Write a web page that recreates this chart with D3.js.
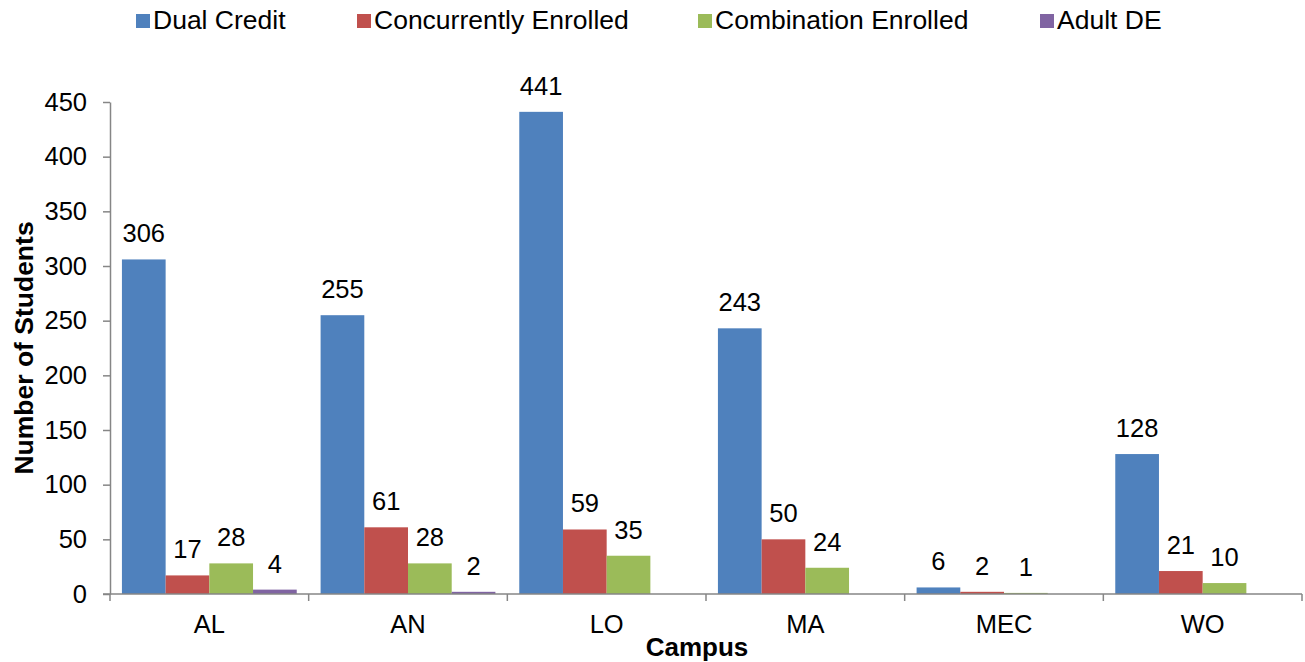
<!DOCTYPE html>
<html>
<head>
<meta charset="utf-8">
<script src="https://cdn.jsdelivr.net/npm/d3@7"></script>
<style>
  body { margin: 0; background: #fff; }
  svg text { font-family: "Liberation Sans", Arial, sans-serif; fill: #000; }
</style>
</head>
<body>
<div id="chart"></div>
<script>
// campuses and series values (null = no bar / label)
const campuses = ['AL', 'AN', 'LO', 'MA', 'MEC', 'WO'];
const seriesNames = ['Dual Credit', 'Concurrently Enrolled', 'Combination Enrolled', 'Adult DE'];
const dualCredit = [306, 255, 441, 243, 6, 128];
const concurrent = [17, 61, 59, 50, 2, 21];
const combination = [28, 28, 35, 24, 1, 10];
const adultDE = [4, 2, null, null, null, null];
const yTicks = [0, 50, 100, 150, 200, 250, 300, 350, 400, 450];
const colors = ['#4F81BD', '#C0504D', '#9BBB59', '#8064A2'];

const W = 1305, H = 662;
const plot = { left: 110, right: 1302, top: 102, bottom: 594 };

const svg = d3.select('#chart').append('svg')
  .attr('width', W).attr('height', H);

const x = d3.scaleBand().domain(campuses).range([plot.left, plot.right]).padding(0);
const xs = d3.scaleBand().domain(d3.range(seriesNames.length))
  .range([0, x.bandwidth()]).paddingInner(0).paddingOuter(0.273);
const y = d3.scaleLinear().domain([0, 450]).range([plot.bottom, plot.top]);

const allSeries = [dualCredit, concurrent, combination, adultDE];
const data = [];
campuses.forEach((c, i) => {
  allSeries.forEach((s, j) => {
    if (s[i] !== null) data.push({ campus: c, series: j, value: s[i] });
  });
});

// bars
svg.append('g').selectAll('rect')
  .data(data)
  .enter()
  .append('rect')
  .attr('x', (d) => x(d.campus) + xs(d.series))
  .attr('y', (d) => y(d.value))
  .attr('width', xs.bandwidth())
  .attr('height', (d) => y(0) - y(d.value))
  .attr('fill', (d) => colors[d.series]);

// value labels
svg.append('g').selectAll('text')
  .data(data)
  .enter()
  .append('text')
  .attr('x', (d) => x(d.campus) + xs(d.series) + xs.bandwidth() / 2)
  .attr('y', (d) => y(d.value) - 17)
  .attr('text-anchor', 'middle')
  .style('font-size', '25.5px')
  .text((d) => d.value);

// y axis
const yAxis = svg.append('g')
  .attr('transform', `translate(${plot.left},0)`)
  .call(d3.axisLeft(y).tickValues(yTicks).tickSize(7).tickPadding(16).tickSizeOuter(0));
yAxis.selectAll('.domain, line').attr('stroke', '#868686').attr('stroke-width', 1.5);
yAxis.selectAll('text').style('font-size', '25.5px').attr('fill', '#000');

// x axis line with boundary ticks
const xg = svg.append('g');
xg.append('line')
  .attr('x1', plot.left - 7).attr('x2', plot.right)
  .attr('y1', y(0)).attr('y2', y(0))
  .attr('stroke', '#868686').attr('stroke-width', 1.5);
const bounds = campuses.map((c) => x(c)).concat([plot.right]);
xg.selectAll('.bt')
  .data(bounds)
  .enter()
  .append('line')
  .attr('x1', (d) => d).attr('x2', (d) => d)
  .attr('y1', y(0)).attr('y2', y(0) + 7)
  .attr('stroke', '#868686').attr('stroke-width', 1.5);
xg.selectAll('.cl')
  .data(campuses)
  .enter()
  .append('text')
  .attr('x', (d) => x(d) + x.bandwidth() / 2)
  .attr('y', 633)
  .attr('text-anchor', 'middle')
  .style('font-size', '25.5px')
  .text((d) => d);

// axis titles
svg.append('text')
  .attr('x', 697).attr('y', 656)
  .attr('text-anchor', 'middle')
  .style('font-size', '26px').style('font-weight', 'bold')
  .text('Campus');
svg.append('text')
  .attr('transform', `translate(33,${(plot.top + plot.bottom) / 2}) rotate(-90)`)
  .attr('text-anchor', 'middle')
  .style('font-size', '26.5px').style('font-weight', 'bold')
  .text('Number of Students');

// legend
const legendX = [136, 357, 698, 1040];
const legend = svg.append('g').selectAll('g')
  .data(seriesNames)
  .enter()
  .append('g')
  .attr('transform', (d, i) => `translate(${legendX[i]},0)`);
legend.append('rect')
  .attr('x', 0).attr('y', 14).attr('width', 14).attr('height', 14)
  .attr('fill', (d, i) => colors[i]);
legend.append('text')
  .attr('x', 17).attr('y', 29)
  .style('font-size', '26.5px')
  .text((d) => d);
</script>
</body>
</html>
